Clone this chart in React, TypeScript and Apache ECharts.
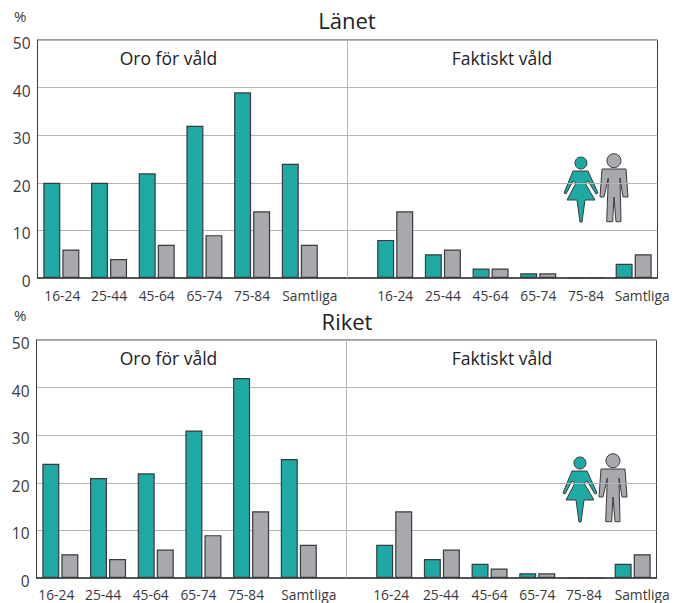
import React, { useEffect, useRef } from "react";
import * as echarts from "echarts";

const categories = ["16-24", "25-44", "45-64", "65-74", "75-84", "Samtliga", " ", "16-24 ", "25-44 ", "45-64 ", "65-74 ", "75-84 ", "Samtliga "];
const lanetWomen = [20, 20, 22, 32, 39, 24, null, 8, 5, 2, 1, 0, 3];
const lanetMen = [6, 4, 7, 9, 14, 7, null, 14, 6, 2, 1, 0, 5];
const riketWomen = [24, 21, 22, 31, 42, 25, null, 7, 4, 3, 1, 0, 3];
const riketMen = [5, 4, 6, 9, 14, 7, null, 14, 6, 2, 1, 0, 5];
const panelTitles = ["Länet", "Riket"];
const groupTitles = ["Oro för våld", "Faktiskt våld"];

const TEAL = "#1fa9a4";
const GRAY = "#a7a9ac";
const DARK = "#3a3a3c";
const FONT = "'Open Sans', sans-serif";

const womanPath = "M17 0A6 6 0 1 1 16.9 0ZM9 14L24 14L34 36L32 37L24 24L21 26L31 43L21 43L18 65L16 65L13 43L3 43L12 26L9 24L2 37L0 36Z";
const manPath = "M14 0.7A7 7 0 1 1 13.9 0.7ZM2 16L26 16L28 44L23 44L20 25L21 68.7L16 68.7L14 44L12.7 68.7L6.7 68.7L8.3 25L4 44L0 44Z";
echarts.graphic.registerShape("woman", echarts.graphic.extendPath(womanPath, {}) as any);
echarts.graphic.registerShape("man", echarts.graphic.extendPath(manPath, {}) as any);

const panels = [
  { top: 40, bottom: 278, left: 37.5, women: lanetWomen, men: lanetMen, titleY: 9, percentY: 8, dx: 0, labelMargin: 10,
    labelShift: [1, 0, 0, 0, 0, 10, 0, 0, 0, 0, 0, 0, 8.5] },
  { top: 340, bottom: 578, left: 36.5, women: riketWomen, men: riketMen, titleY: 310, percentY: 307, dx: -1, labelMargin: 9,
    labelShift: [-4, -5, -5, -5, -5, 10, 0, -3, -1, 0, 0, -1, 9.5] },
];

const labelStyle = { color: "#3a3a3c", fontSize: 13.8, fontFamily: FONT };

export default function App() {
  const ref = useRef<HTMLDivElement>(null);
  useEffect(() => {
    const chart = echarts.init(ref.current!, undefined, { renderer: "svg" });
    const W = 620;
    chart.setOption({
      animation: false,
      backgroundColor: "#fff",
      textStyle: { fontFamily: FONT },
      grid: panels.map((p) => ({
        left: p.left, top: p.top, width: W, height: p.bottom - p.top,
        show: true, borderColor: DARK, borderWidth: 1, backgroundColor: "transparent",
      })),
      xAxis: panels.map((p, i) => ({
        type: "category", gridIndex: i, data: categories,
        axisLine: { show: true, lineStyle: { color: DARK, width: 1.5 } },
        axisTick: { show: false },
        axisLabel: {
          ...labelStyle, margin: p.labelMargin, interval: 0, hideOverlap: false,
          formatter: (v: string, idx: number) => `{s${idx}|${v.trim()}}`,
          rich: Object.fromEntries(p.labelShift.map((s, k) => [
            `s${k}`,
            { ...labelStyle, padding: [0, s < 0 ? -2 * s : 0, 0, s > 0 ? 2 * s : 0] },
          ])),
        },
      })),
      yAxis: panels.map((_, i) => ({
        type: "value", gridIndex: i, min: 0, max: 50, interval: 10,
        axisLine: { show: true, lineStyle: { color: DARK, width: 1 } },
        axisTick: { show: false },
        splitLine: { show: true, lineStyle: { color: "#b5b5b5", width: 1 } },
        axisLabel: { color: "#3a3a3c", fontSize: 15.5, fontFamily: FONT, margin: 7, verticalAlign: "top", lineHeight: 6 },
      })),
      series: panels.flatMap((p, i) => [
        {
          type: "bar", xAxisIndex: i, yAxisIndex: i, data: p.women, barWidth: 17, barGap: "12%",
          itemStyle: { color: TEAL, borderColor: DARK, borderWidth: 1.2 },
        },
        {
          type: "bar", xAxisIndex: i, yAxisIndex: i, data: p.men, barWidth: 17,
          itemStyle: { color: GRAY, borderColor: DARK, borderWidth: 1.2 },
        },
        {
          type: "line", xAxisIndex: i, yAxisIndex: i, data: [], symbol: "none",
          markLine: {
            silent: true, symbol: "none", label: { show: false },
            lineStyle: { color: "#b5b5b5", width: 1, type: "solid" },
            data: [{ xAxis: " " }],
          },
        },
      ]),
      graphic: panels.flatMap((p, i) => [
        { type: "text", x: 347, y: p.titleY, style: { text: panelTitles[i], font: `22px ${FONT}`, fill: "#222", textAlign: "center" } },
        { type: "text", x: 14, y: p.percentY, style: { text: "%", font: `15px ${FONT}`, fill: "#3a3a3c" } },
        { type: "text", x: 168.5, y: p.top + 9, style: { text: groupTitles[0], font: `17.5px ${FONT}`, fill: "#222", textAlign: "center" } },
        { type: "text", x: 502, y: p.top + 9, style: { text: groupTitles[1], font: `17.5px ${FONT}`, fill: "#222", textAlign: "center" } },
        { type: "woman", x: 564 + p.dx, y: p.top + 117, style: { fill: TEAL, stroke: DARK, lineWidth: 1 } },
        { type: "man", x: 600 + p.dx, y: p.top + 113, style: { fill: GRAY, stroke: DARK, lineWidth: 1 } },
      ]),
    });
    return () => chart.dispose();
  }, []);
  return <div ref={ref} style={{ width: 684, height: 603, position: "absolute", left: 0, top: 0 }} />;
}
